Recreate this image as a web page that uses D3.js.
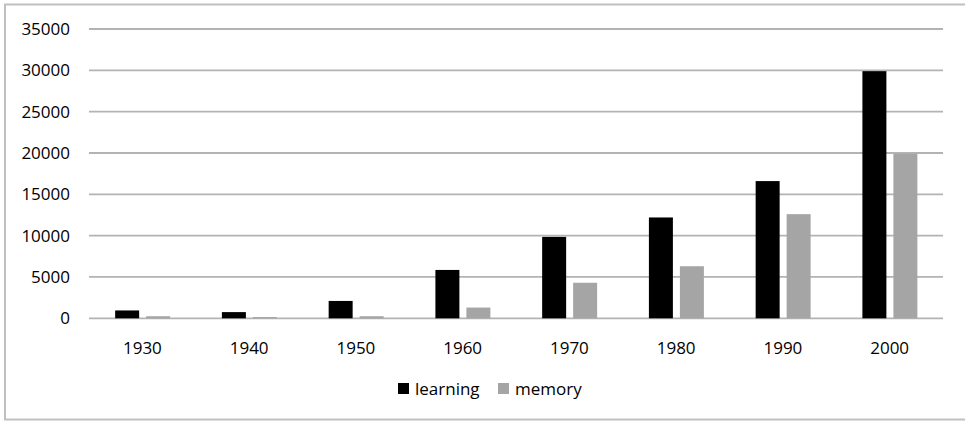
<!DOCTYPE html>
<html>
<head>
<meta charset="utf-8">
<script src="https://cdn.jsdelivr.net/npm/d3@7"></script>
<style>
  body { margin: 0; background: #fff; }
  svg { display: block; font-family: "Open Sans", sans-serif; }
</style>
</head>
<body>
<div id="chart"></div>
<script>
// chart data
var years = ["1930", "1940", "1950", "1960", "1970", "1980", "1990", "2000"];
var seriesNames = ["learning", "memory"];
var learning = [950, 750, 2100, 5850, 9850, 12200, 16600, 29900];
var memory = [250, 150, 250, 1300, 4300, 6300, 12600, 19900];
var yTicks = [0, 5000, 10000, 15000, 20000, 25000, 30000, 35000];

var colors = { learning: "#000000", memory: "#a5a5a5" };

var svgWidth = 965;
var svgHeight = 421;

var svg = d3.select("#chart")
    .append("svg")
    .attr("width", svgWidth)
    .attr("height", svgHeight);

// outer frame
svg.append("rect")
    .attr("x", 5)
    .attr("y", 4.5)
    .attr("width", 975)
    .attr("height", 415)
    .attr("fill", "#fff")
    .attr("stroke", "#c0c0c0")
    .attr("stroke-width", 2);

var rows = years.map(function(y, i) {
    return { year: y, learning: learning[i], memory: memory[i] };
});

// scales
var x0 = d3.scaleBand()
    .domain(years)
    .range([89, 943]);

var x1 = d3.scaleBand()
    .domain(seriesNames)
    .range([x0.bandwidth() * 0.245, x0.bandwidth() * 0.76])
    .paddingInner(0.226);

var y = d3.scaleLinear()
    .domain([0, 35000])
    .range([318.3, 29]);

// gridlines
svg.append("g")
    .selectAll("line")
    .data(yTicks)
    .enter()
    .append("line")
    .attr("x1", 89)
    .attr("x2", 943)
    .attr("y1", d => y(d))
    .attr("y2", d => y(d))
    .attr("stroke", "#b3b3b3")
    .attr("stroke-width", 1.8);

// y axis labels
var yAxis = d3.axisLeft(y).tickValues(yTicks).tickSize(0).tickPadding(0).tickFormat(d3.format("d"));
var yG = svg.append("g")
    .attr("transform", "translate(70,0)")
    .call(yAxis);
yG.select(".domain").remove();
yG.selectAll("text")
    .attr("font-family", "Open Sans, sans-serif")
    .attr("font-size", "17px")
    .attr("fill", "#000");

// x axis labels
var xAxis = d3.axisBottom(x0).tickSize(0).tickPadding(0);
var xG = svg.append("g")
    .attr("transform", "translate(0,338)")
    .call(xAxis);
xG.select(".domain").remove();
xG.selectAll("text")
    .attr("dy", "0.95em")
    .attr("font-family", "Open Sans, sans-serif")
    .attr("font-size", "17px")
    .attr("fill", "#000");

// bars
var groups = svg.append("g")
    .selectAll("g")
    .data(rows)
    .enter()
    .append("g")
    .attr("transform", d => `translate(${x0(d.year)},0)`);

groups.selectAll("rect")
    .data(d => seriesNames.map(k => ({ key: k, value: d[k] })))
    .enter()
    .append("rect")
    .attr("x", d => x1(d.key))
    .attr("width", x1.bandwidth())
    .attr("y", d => y(d.value))
    .attr("height", d => y(0) - y(d.value))
    .attr("fill", d => colors[d.key]);

// legend
var legendX = [398, 498];
var legend = svg.append("g")
    .selectAll("g")
    .data(seriesNames)
    .enter()
    .append("g")
    .attr("transform", (d, i) => `translate(${legendX[i]},383)`);

legend.append("rect")
    .attr("width", 11)
    .attr("height", 11)
    .attr("fill", d => colors[d]);

legend.append("text")
    .attr("x", 17)
    .attr("y", 11.5)
    .attr("font-size", "17px")
    .attr("fill", "#000")
    .text(d => d);
</script>
</body>
</html>
